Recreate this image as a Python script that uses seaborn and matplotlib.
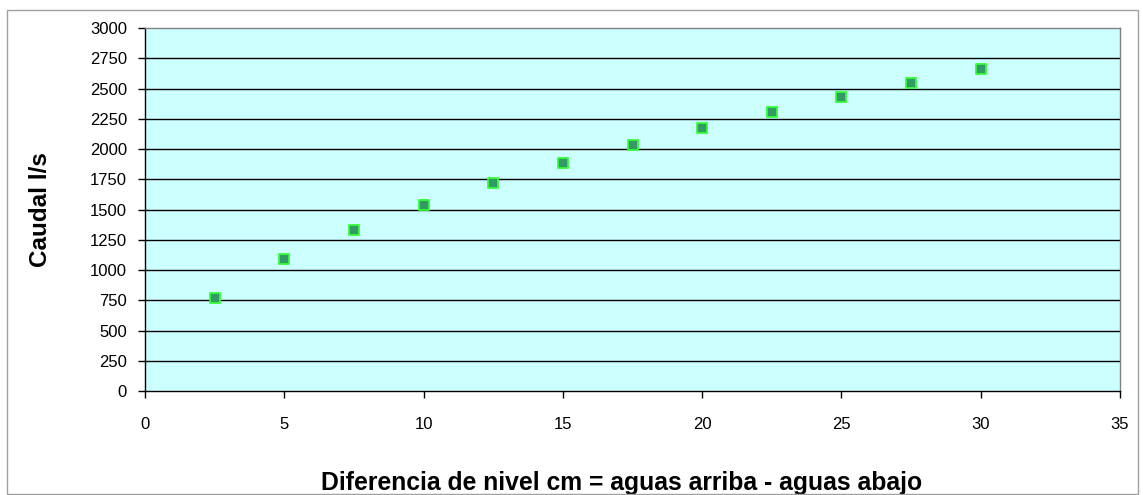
import matplotlib
matplotlib.use("Agg")
import matplotlib.pyplot as plt
import matplotlib.patches as mpatches
import pandas as pd
import seaborn as sns

sns.set_style("white")
plt.rcParams["font.family"] = ["Liberation Sans", "DejaVu Sans"]
plt.rcParams["text.color"] = "black"
plt.rcParams["xtick.color"] = "black"
plt.rcParams["ytick.color"] = "black"
plt.rcParams["axes.labelcolor"] = "black"

diferencia = [2.5, 5, 7.5, 10, 12.5, 15, 17.5, 20, 22.5, 25, 27.5, 30]
caudal = [767, 1092, 1335, 1540, 1720, 1885, 2035, 2175, 2305, 2430, 2550, 2665]
x_ticks = [0, 5, 10, 15, 20, 25, 30, 35]
y_ticks = [0, 250, 500, 750, 1000, 1250, 1500, 1750, 2000, 2250, 2500, 2750, 3000]

df = pd.DataFrame({"diferencia": diferencia, "caudal": caudal})

fig = plt.figure(figsize=(11.43, 4.95), dpi=100)
ax = fig.add_axes([0.1269, 0.210, 0.853, 0.733])
ax.set_facecolor("#CCFFFF")

# horizontal grid lines
for yv in y_ticks[1:-1]:
    ax.axhline(yv, color="black", lw=1, zorder=1)

sns.scatterplot(data=df, x="diferencia", y="caudal", marker="s", s=60,
                color="#339966", edgecolor="#33FF33", linewidth=1.3, ax=ax, zorder=3)

ax.set_xlim(0, 35)
ax.set_ylim(0, 3000)
ax.set_xticks(x_ticks)
ax.set_yticks(y_ticks)
ax.tick_params(axis="both", direction="out", length=5, width=1, labelsize=12,
               bottom=True, left=True)
ax.tick_params(axis="y", pad=8)
ax.tick_params(axis="x", pad=14)

for side in ["left", "bottom"]:
    ax.spines[side].set_color("black")
    ax.spines[side].set_linewidth(1)
for side in ["top", "right"]:
    ax.spines[side].set_color("#808080")
    ax.spines[side].set_linewidth(1)

ax.set_xlabel("Diferencia de nivel cm = aguas arriba - aguas abajo",
              fontsize=17.8, fontweight="bold")
ax.set_ylabel("Caudal l/s", fontsize=17.5, fontweight="bold")
ax.xaxis.set_label_coords(0.489, -0.22)
ax.yaxis.set_label_coords(-0.095, 0.5)

# chart-area border
fig.patches.append(mpatches.Rectangle((7 / 1143, 0.002), 1131 / 1143, 1 - 10 / 495 - 0.002,
                                      transform=fig.transFigure, fill=False,
                                      edgecolor="#A0A0A0", lw=1))

fig.savefig("out.png", dpi=100)
